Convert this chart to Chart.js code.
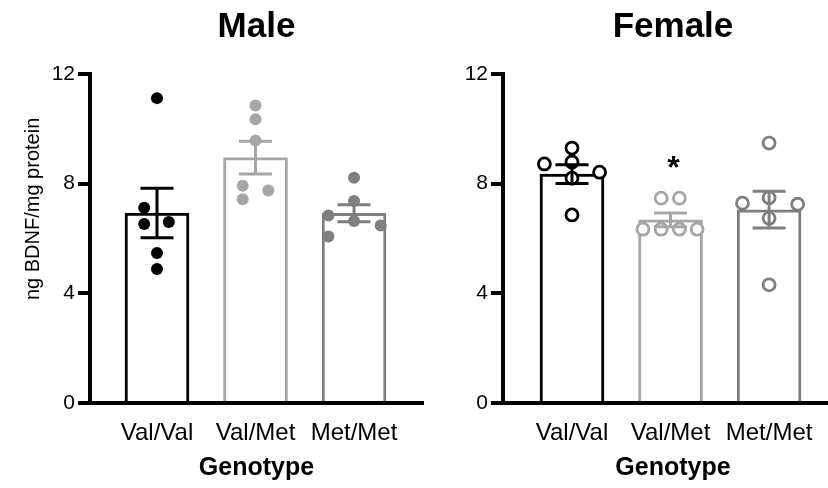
<!DOCTYPE html>
<html lang="en">
<head>
<meta charset="UTF-8">
<script src="https://cdn.jsdelivr.net/npm/chart.js@4.4.1/dist/chart.umd.min.js"></script>
<style>
  html, body { margin: 0; background: #fff; overflow: hidden; width: 828px; height: 488px; }
  canvas { position: absolute; top: 0; }
  #male { left: 0; }
  #female { left: 440px; }
</style>
</head>
<body>
<canvas id="male" width="440" height="488"></canvas>
<canvas id="female" width="417" height="488"></canvas>
<script>
// data
const genotypes = ['Val/Val', 'Val/Met', 'Met/Met'];
const yTicks = [0, 4, 8, 12];

const maleMeans = [6.93, 8.95, 6.92];
const maleSem = [0.9, 0.6, 0.31];
const malePoints = [
  [11.12, 7.12, 6.53, 6.6, 5.47, 4.89],
  [10.85, 10.35, 9.57, 7.92, 7.75, 7.43],
  [8.22, 7.37, 6.84, 6.64, 6.47, 6.07]
];
const maleJitter = [
  [0, -0.13, -0.13, 0.12, 0, 0],
  [0, 0, 0, -0.13, 0.13, -0.13],
  [0, 0, -0.26, 0, 0.27, -0.26]
];

const femaleMeans = [8.35, 6.68, 7.05];
const femaleSem = [0.34, 0.25, 0.67];
const femalePoints = [
  [9.3, 8.72, 8.79, 8.2, 8.42, 6.86],
  [7.47, 7.47, 6.34, 6.34, 6.34, 6.34],
  [9.48, 7.49, 7.29, 7.25, 6.74, 4.31]
];
const femaleJitter = [
  [0, -0.28, 0, 0, 0.28, 0],
  [-0.095, 0.09, -0.28, -0.095, 0.09, 0.27],
  [0, 0, -0.27, 0.29, 0, 0]
];
const femaleSig = ['', '*', ''];

const colors = ['#000000', '#a6a6a6', '#7f7f7f'];
const FONT = 'Liberation Sans, Arial, sans-serif';

// error bars + significance stars
const errorBars = {
  id: 'errorBars',
  afterDatasetsDraw(chart, args, o) {
    const ctx = chart.ctx, xs = chart.scales.x, ys = chart.scales.y;
    ctx.save();
    ctx.lineWidth = 3;
    o.means.forEach((m, i) => {
      const x = xs.getPixelForValue(i + 1);
      const top = ys.getPixelForValue(m + o.sem[i]);
      const bot = ys.getPixelForValue(m - o.sem[i]);
      ctx.strokeStyle = colors[i];
      ctx.beginPath();
      ctx.moveTo(x, top); ctx.lineTo(x, bot);
      ctx.moveTo(x - 16.5, top); ctx.lineTo(x + 16.5, top);
      ctx.moveTo(x - 16.5, bot); ctx.lineTo(x + 16.5, bot);
      ctx.stroke();
      if (o.sig && o.sig[i]) {
        const hi = Math.max(...o.points[i]);
        ctx.fillStyle = '#000';
        ctx.font = 'bold 32px ' + FONT;
        ctx.textAlign = 'center';
        ctx.textBaseline = 'alphabetic';
        const mt = ctx.measureText(o.sig[i]);
        const cy = ys.getPixelForValue(hi) - 36;
        ctx.fillText(o.sig[i], x + 3, cy + (mt.actualBoundingBoxAscent - mt.actualBoundingBoxDescent) / 2);
      }
    });
    ctx.restore();
  }
};

// rotated y title, sits a bit above the axis middle like the original
const yTitle = {
  id: 'yTitle',
  afterDraw(chart, args, o) {
    if (!o.text) return;
    const ctx = chart.ctx, a = chart.chartArea;
    ctx.save();
    ctx.translate(33, a.top + (a.bottom - a.top) * 0.41);
    ctx.rotate(-Math.PI / 2);
    ctx.font = '20px ' + FONT;
    ctx.fillStyle = '#000';
    ctx.textAlign = 'center';
    ctx.textBaseline = 'middle';
    ctx.fillText(o.text, 0, 0);
    ctx.restore();
  }
};

function makePanel(id, title, means, sem, points, jitter, sig, axisW, xMin, xMax, padRight, yText) {
  const datasets = [{
    type: 'bar',
    data: means.map((m, i) => ({ x: i + 1, y: m })),
    backgroundColor: '#ffffff',
    borderColor: colors,
    borderWidth: 3,
    barThickness: 64,
    order: 2
  }];
  points.forEach((vals, i) => {
    datasets.push({
      type: 'scatter',
      data: vals.map((v, k) => ({ x: i + 1 + jitter[i][k], y: v })),
      pointRadius: 6,
      pointBorderWidth: id === 'female' ? 2.8 : 0,
      pointBackgroundColor: id === 'female' ? '#ffffff' : colors[i],
      pointBorderColor: colors[i],
      order: 1
    });
  });

  return new Chart(document.getElementById(id), {
    type: 'bar',
    data: { datasets },
    plugins: [errorBars, yTitle],
    options: {
      responsive: false,
      animation: false,
      layout: { padding: { left: 0, right: padRight, top: 0, bottom: 0 } },
      plugins: {
        legend: { display: false },
        tooltip: { enabled: false },
        title: {
          display: true, text: title, fullSize: false,
          color: '#000', font: { family: FONT, size: 35, weight: 'bold' },
          padding: { top: 6, bottom: 26 }
        },
        errorBars: { means, sem, points, sig },
        yTitle: { text: yText }
      },
      scales: {
        x: {
          type: 'linear', min: xMin, max: xMax, offset: false,
          afterBuildTicks: s => {
            s.ticks = genotypes.map((g, i) => ({ value: i + 1 }));
            s.min = xMin; s.max = xMax;
          },
          afterFit: s => { s.height = 85; s.paddingLeft = 0; s.paddingRight = 0; },
          ticks: {
            callback: v => genotypes[v - 1],
            color: '#000', font: { family: FONT, size: 24 },
            padding: 16, autoSkip: false, maxRotation: 0
          },
          grid: { display: false, drawTicks: false, offset: false },
          border: { display: true, color: '#000', width: 4 },
          title: {
            display: true, text: 'Genotype', color: '#000',
            font: { family: FONT, size: 25, weight: 'bold' },
            padding: { top: 4, bottom: 5 }
          }
        },
        y: {
          min: 0, max: 12,
          afterBuildTicks: s => { s.ticks = yTicks.map(v => ({ value: v })); },
          afterFit: s => { s.width = axisW; },
          ticks: { color: '#000', font: { family: FONT, size: 21 }, padding: 3 },
          grid: { drawOnChartArea: false, drawTicks: true, tickLength: 12, lineWidth: 4, color: '#000' },
          border: { display: true, color: '#000', width: 4 }
        }
      }
    }
  });
}

makePanel('male', 'Male', maleMeans, maleSem, malePoints, maleJitter, null, 90, 0.32, 3.70, 17, 'ng BDNF/mg protein');
makePanel('female', 'Female', femaleMeans, femaleSem, femalePoints, femaleJitter, femaleSig, 63, 0.30, 3.75, 14, '');
</script>
</body>
</html>
